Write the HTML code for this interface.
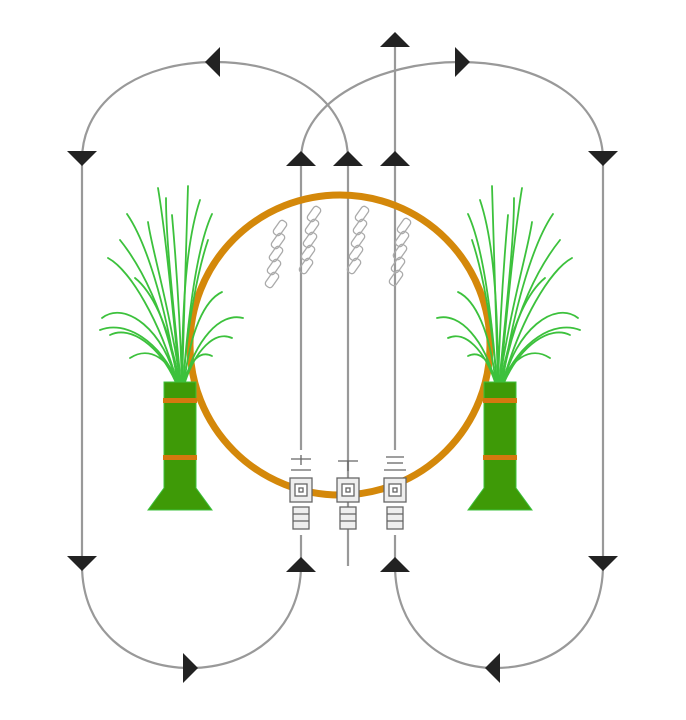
<!DOCTYPE html>
<html><head><meta charset="utf-8"><style>html,body{margin:0;padding:0;background:#fff}svg{display:block}</style></head>
<body>
<svg width="686" height="720" viewBox="0 0 686 720" xmlns="http://www.w3.org/2000/svg">
<defs>
<g id="plant">
  <g fill="none" stroke="#3cc13c" stroke-width="1.8" stroke-linecap="round">
    <path d="M180,385 C172,300 165,230 158,188"/>
    <path d="M182,385 C184,300 186,240 188,186"/>
    <path d="M183,385 C190,290 200,240 212,214"/>
    <path d="M178,385 C165,300 145,240 127,214"/>
    <path d="M178,385 C160,320 130,270 108,258"/>
    <path d="M177,385 C165,330 125,300 102,318"/>
    <path d="M177,385 C160,345 130,325 110,335"/>
    <path d="M178,385 C170,360 150,345 130,358"/>
    <path d="M181,385 C168,300 152,250 148,222"/>
    <path d="M181,385 C172,290 166,240 166,198"/>
    <path d="M182,385 C182,280 190,230 200,200"/>
    <path d="M184,385 C190,330 205,300 222,292"/>
    <path d="M184,385 C195,340 220,312 243,318"/>
    <path d="M184,385 C195,350 215,330 232,338"/>
    <path d="M183,385 C190,360 200,350 212,356"/>
    <path d="M179,385 C165,310 140,265 120,240"/>
    <path d="M180,385 C168,320 150,290 135,278"/>
    <path d="M182,385 C180,320 176,260 172,215"/>
    <path d="M183,385 C188,320 198,270 208,240"/>
    <path d="M179,385 C160,340 125,320 100,330"/>
  </g>
  <path d="M164,382 L196,382 L196,488 L212,510 L148,510 L164,488 Z" fill="#3e9a07" stroke="#3cc13c" stroke-width="1"/>
  <rect x="163" y="398" width="34" height="5" fill="#d4780e"/>
  <rect x="163" y="455" width="34" height="5" fill="#d4780e"/>
</g>
<g id="link" fill="none" stroke="#aaa" stroke-width="1.3">
  <rect x="-4" y="-8" width="8" height="16" rx="3"/>
</g>
<g id="chain">
  <use href="#link" transform="translate(0,0) rotate(35)"/>
  <use href="#link" transform="translate(-2,13) rotate(35)"/>
  <use href="#link" transform="translate(-4,26) rotate(35)"/>
  <use href="#link" transform="translate(-6,39) rotate(35)"/>
  <use href="#link" transform="translate(-8,52) rotate(35)"/>
</g>
<g id="up"><path d="M-15,7 L15,7 L0,-8 Z" fill="#222"/></g>
<g id="down"><path d="M-15,-7 L15,-7 L0,8 Z" fill="#222"/></g>
<g id="left"><path d="M7,-15 L7,15 L-8,0 Z" fill="#222"/></g>
<g id="right"><path d="M-7,-15 L-7,15 L8,0 Z" fill="#222"/></g>
<g id="glyphs" fill="none" stroke="#666" stroke-width="1.3">
  <rect x="-11" y="23" width="22" height="24" fill="#eee"/>
  <rect x="-6" y="29" width="12" height="12" fill="#fff"/>
  <rect x="-2" y="33" width="4" height="4"/>
  <rect x="-8" y="52" width="16" height="22" fill="#eee"/>
  <line x1="-8" y1="59" x2="8" y2="59"/>
  <line x1="-8" y1="66" x2="8" y2="66"/>
</g>
</defs>

<g fill="none" stroke="#999" stroke-width="2.2">
  <path d="M82,160 C82,100 140,62 215,62 C290,62 348,100 348,160"/>
  <path d="M301,160 C301,100 380,62 460,62 C540,62 603,100 603,160"/>
  <path d="M82,565 C82,630 130,668 190,668 C250,668 301,630 301,565"/>
  <path d="M395,565 C395,630 440,668 495,668 C555,668 603,630 603,565"/>
  <line x1="82" y1="160" x2="82" y2="565"/>
  <line x1="603" y1="160" x2="603" y2="565"/>
  <line x1="301" y1="160" x2="301" y2="450"/>
  <line x1="348" y1="160" x2="348" y2="566"/>
  <line x1="395" y1="40" x2="395" y2="450"/>
  <line x1="301" y1="535" x2="301" y2="565"/>
  <line x1="395" y1="535" x2="395" y2="565"/>
</g>

<circle cx="340" cy="345" r="150" fill="none" stroke="#d4880a" stroke-width="7"/>

<use href="#chain" transform="translate(280,228)"/>
<use href="#chain" transform="translate(314,214)"/>
<use href="#chain" transform="translate(362,214)"/>
<use href="#chain" transform="translate(404,226)"/>

<use href="#plant"/>
<use href="#plant" transform="translate(680,0) scale(-1,1)"/>

<g transform="translate(301,455)">
  <g stroke="#666" stroke-width="1.3" fill="none">
    <line x1="-10" y1="4" x2="10" y2="4"/><line x1="0" y1="0" x2="0" y2="10"/>
    <line x1="-10" y1="15" x2="10" y2="15"/>
  </g>
  <use href="#glyphs"/>
</g>
<g transform="translate(348,455)">
  <g stroke="#666" stroke-width="1.3" fill="none">
    <line x1="-10" y1="6" x2="10" y2="6"/><line x1="0" y1="6" x2="0" y2="16"/>
  </g>
  <use href="#glyphs"/>
</g>
<g transform="translate(395,455)">
  <g stroke="#666" stroke-width="1.3" fill="none">
    <line x1="-9" y1="2" x2="9" y2="2"/><line x1="-8" y1="8" x2="8" y2="8"/>
    <line x1="-11" y1="15" x2="11" y2="15"/>
  </g>
  <use href="#glyphs"/>
</g>

<use href="#down" x="82" y="158"/>
<use href="#down" x="603" y="158"/>
<use href="#up" x="301" y="159"/>
<use href="#up" x="348" y="159"/>
<use href="#up" x="395" y="159"/>
<use href="#up" x="395" y="40"/>
<use href="#left" x="213" y="62"/>
<use href="#right" x="462" y="62"/>
<use href="#down" x="82" y="563"/>
<use href="#down" x="603" y="563"/>
<use href="#up" x="301" y="565"/>
<use href="#up" x="395" y="565"/>
<use href="#right" x="190" y="668"/>
<use href="#left" x="493" y="668"/>
</svg>
</body></html>
